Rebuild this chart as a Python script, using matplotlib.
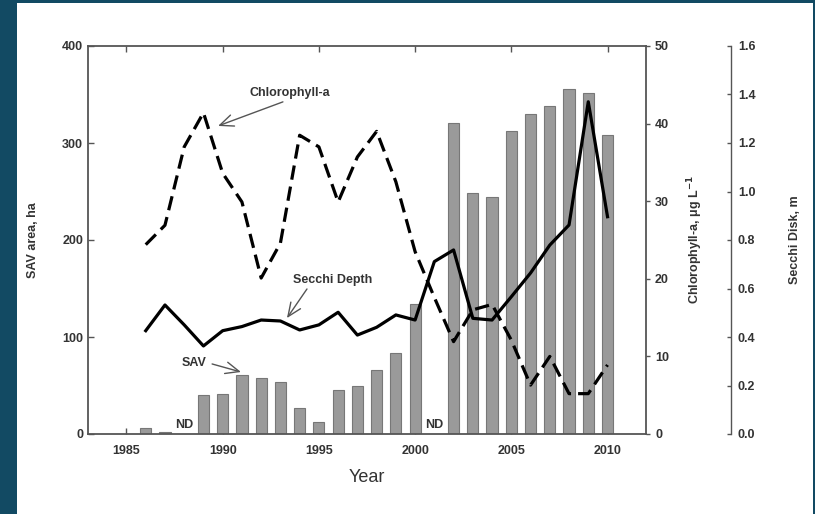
import matplotlib
matplotlib.use("Agg")
import matplotlib.pyplot as plt
from matplotlib.patches import Rectangle
import numpy as np

plt.rcParams['font.family'] = ['Liberation Sans', 'DejaVu Sans']

# Submerged aquatic vegetation area (ha); None marks years with no data
years = list(range(1986, 2011))
sav_area = [6, 2, None, 40, 41, 61, 58, 54, 27, 12, 45, 50, 66, 84, 134,
            None, 321, 248, 244, 312, 330, 338, 356, 352, 308]
# Chlorophyll-a (ug/L)
chl_a = [24.4, 26.9, 37.0, 41.4, 33.6, 29.9, 20.1, 24.6, 38.5, 37.0, 29.9,
         35.7, 39.0, 32.5, 23.5, 17.6, 11.9, 16.0, 16.7, 12.1, 6.3, 10.0,
         5.2, 5.2, 8.9]
# Secchi disk depth (m)
secchi = [0.426, 0.532, 0.45, 0.363, 0.426, 0.443, 0.47, 0.466, 0.429,
          0.45, 0.502, 0.408, 0.44, 0.491, 0.47, 0.711, 0.759, 0.477,
          0.47, 0.566, 0.664, 0.779, 0.862, 1.370, 0.896]
nd_years = [1988, 2001]
year_ticks = [1985, 1990, 1995, 2000, 2005, 2010]

ink = '#333333'
spine_col = '#555555'

fig = plt.figure(figsize=(8.15, 5.14), dpi=100)
fig.patch.set_facecolor('#124a63')
fig.patches.append(Rectangle((17 / 815, 0), 796 / 815, 511 / 514,
                             transform=fig.transFigure, facecolor='white',
                             edgecolor='none', zorder=-10))

ax = fig.add_axes([88 / 815, 80 / 514, 558 / 815, 388 / 514])
ax.set_facecolor('white')

bar_x = [y for y, v in zip(years, sav_area) if v is not None]
bar_h = [v for v in sav_area if v is not None]
ax.bar(bar_x, bar_h, width=0.58, color='#9a9a9a', edgecolor='#777777',
       linewidth=0.8, zorder=2)
for y in nd_years:
    ax.text(y, 3, 'ND', ha='center', va='bottom', fontsize=9,
            fontweight='bold', color=ink)

ax.set_xlim(1983, 2012)
ax.set_ylim(0, 400)
ax.set_xticks(year_ticks)
ax.set_yticks([0, 100, 200, 300, 400])
ax.tick_params(axis='both', direction='in', length=4, width=1,
               color=spine_col, labelsize=9, labelcolor=ink, top=True)
ax.tick_params(axis='x', pad=8)
for lab in ax.get_xticklabels() + ax.get_yticklabels():
    lab.set_fontweight('bold')
for s in ax.spines.values():
    s.set_color(spine_col)
    s.set_linewidth(1.3)

# Chlorophyll-a on the first right axis
ax2 = ax.twinx()
ax2.plot(years, chl_a, color='black', linewidth=2.3, linestyle=(0, (4.5, 2.2)),
         zorder=3)
ax2.set_ylim(0, 50)
ax2.set_yticks([0, 10, 20, 30, 40, 50])
ax2.tick_params(axis='y', direction='out', length=3, width=1,
                color=spine_col, labelsize=9, labelcolor=ink)
for lab in ax2.get_yticklabels():
    lab.set_fontweight('bold')
for s in ax2.spines.values():
    s.set_visible(False)

# Secchi depth on the outer right axis
ax3 = ax.twinx()
ax3.plot(years, secchi, color='black', linewidth=2.3, zorder=3)
ax3.set_ylim(0, 1.6)
ax3.set_yticks(np.arange(0, 1.61, 0.2))
ax3.yaxis.set_major_formatter(matplotlib.ticker.FormatStrFormatter('%.1f'))
for name, s in ax3.spines.items():
    s.set_visible(name == 'right')
ax3.spines['right'].set_position(('axes', 1.152))
ax3.spines['right'].set_color(spine_col)
ax3.spines['right'].set_linewidth(1)
ax3.tick_params(axis='y', direction='in', length=3, width=1,
                color=spine_col, labelsize=9, labelcolor=ink, pad=5)
for lab in ax3.get_yticklabels():
    lab.set_fontweight('bold')

# Axis titles
fig.text(33 / 815, 1 - 240 / 514, 'SAV area, ha', rotation=90, ha='center',
         va='center', fontsize=9, fontweight='bold', color=ink)
fig.text(695 / 815, 1 - 240 / 514, 'Chlorophyll-a, μg L$^{\\mathbf{-1}}$',
         rotation=90, ha='center', va='center', fontsize=9,
         fontweight='bold', color=ink)
fig.text(795 / 815, 1 - 240 / 514, 'Secchi Disk, m', rotation=90,
         ha='center', va='center', fontsize=9, fontweight='bold', color=ink)
fig.text(367 / 815, 1 - 478 / 514, 'Year', ha='center', va='center',
         fontsize=13, color=ink)

# Series annotations: label text plus a separate pointer arrow
arrow = dict(arrowstyle='->,head_length=0.7,head_width=0.3',
             color='#555555', lw=1, mutation_scale=14, shrinkA=0, shrinkB=0)
ax2.text(1993.5, 43.9, 'Chlorophyll-a', ha='center', va='center',
         fontsize=9, fontweight='bold', color=ink)
ax2.annotate('', xy=(1989.76, 39.7), xytext=(1993.13, 42.8),
             arrowprops=arrow)
ax3.text(1995.73, 0.635, 'Secchi Depth', ha='center', va='center',
         fontsize=9, fontweight='bold', color=ink)
ax3.annotate('', xy=(1993.34, 0.478), xytext=(1994.38, 0.598),
             arrowprops=arrow)
ax.text(1988.51, 73.2, 'SAV', ha='center', va='center',
        fontsize=9, fontweight='bold', color=ink)
ax.annotate('', xy=(1990.95, 63.9), xytext=(1989.45, 72.2),
            arrowprops=arrow)

fig.savefig('out.png', dpi=100, facecolor=fig.get_facecolor())
